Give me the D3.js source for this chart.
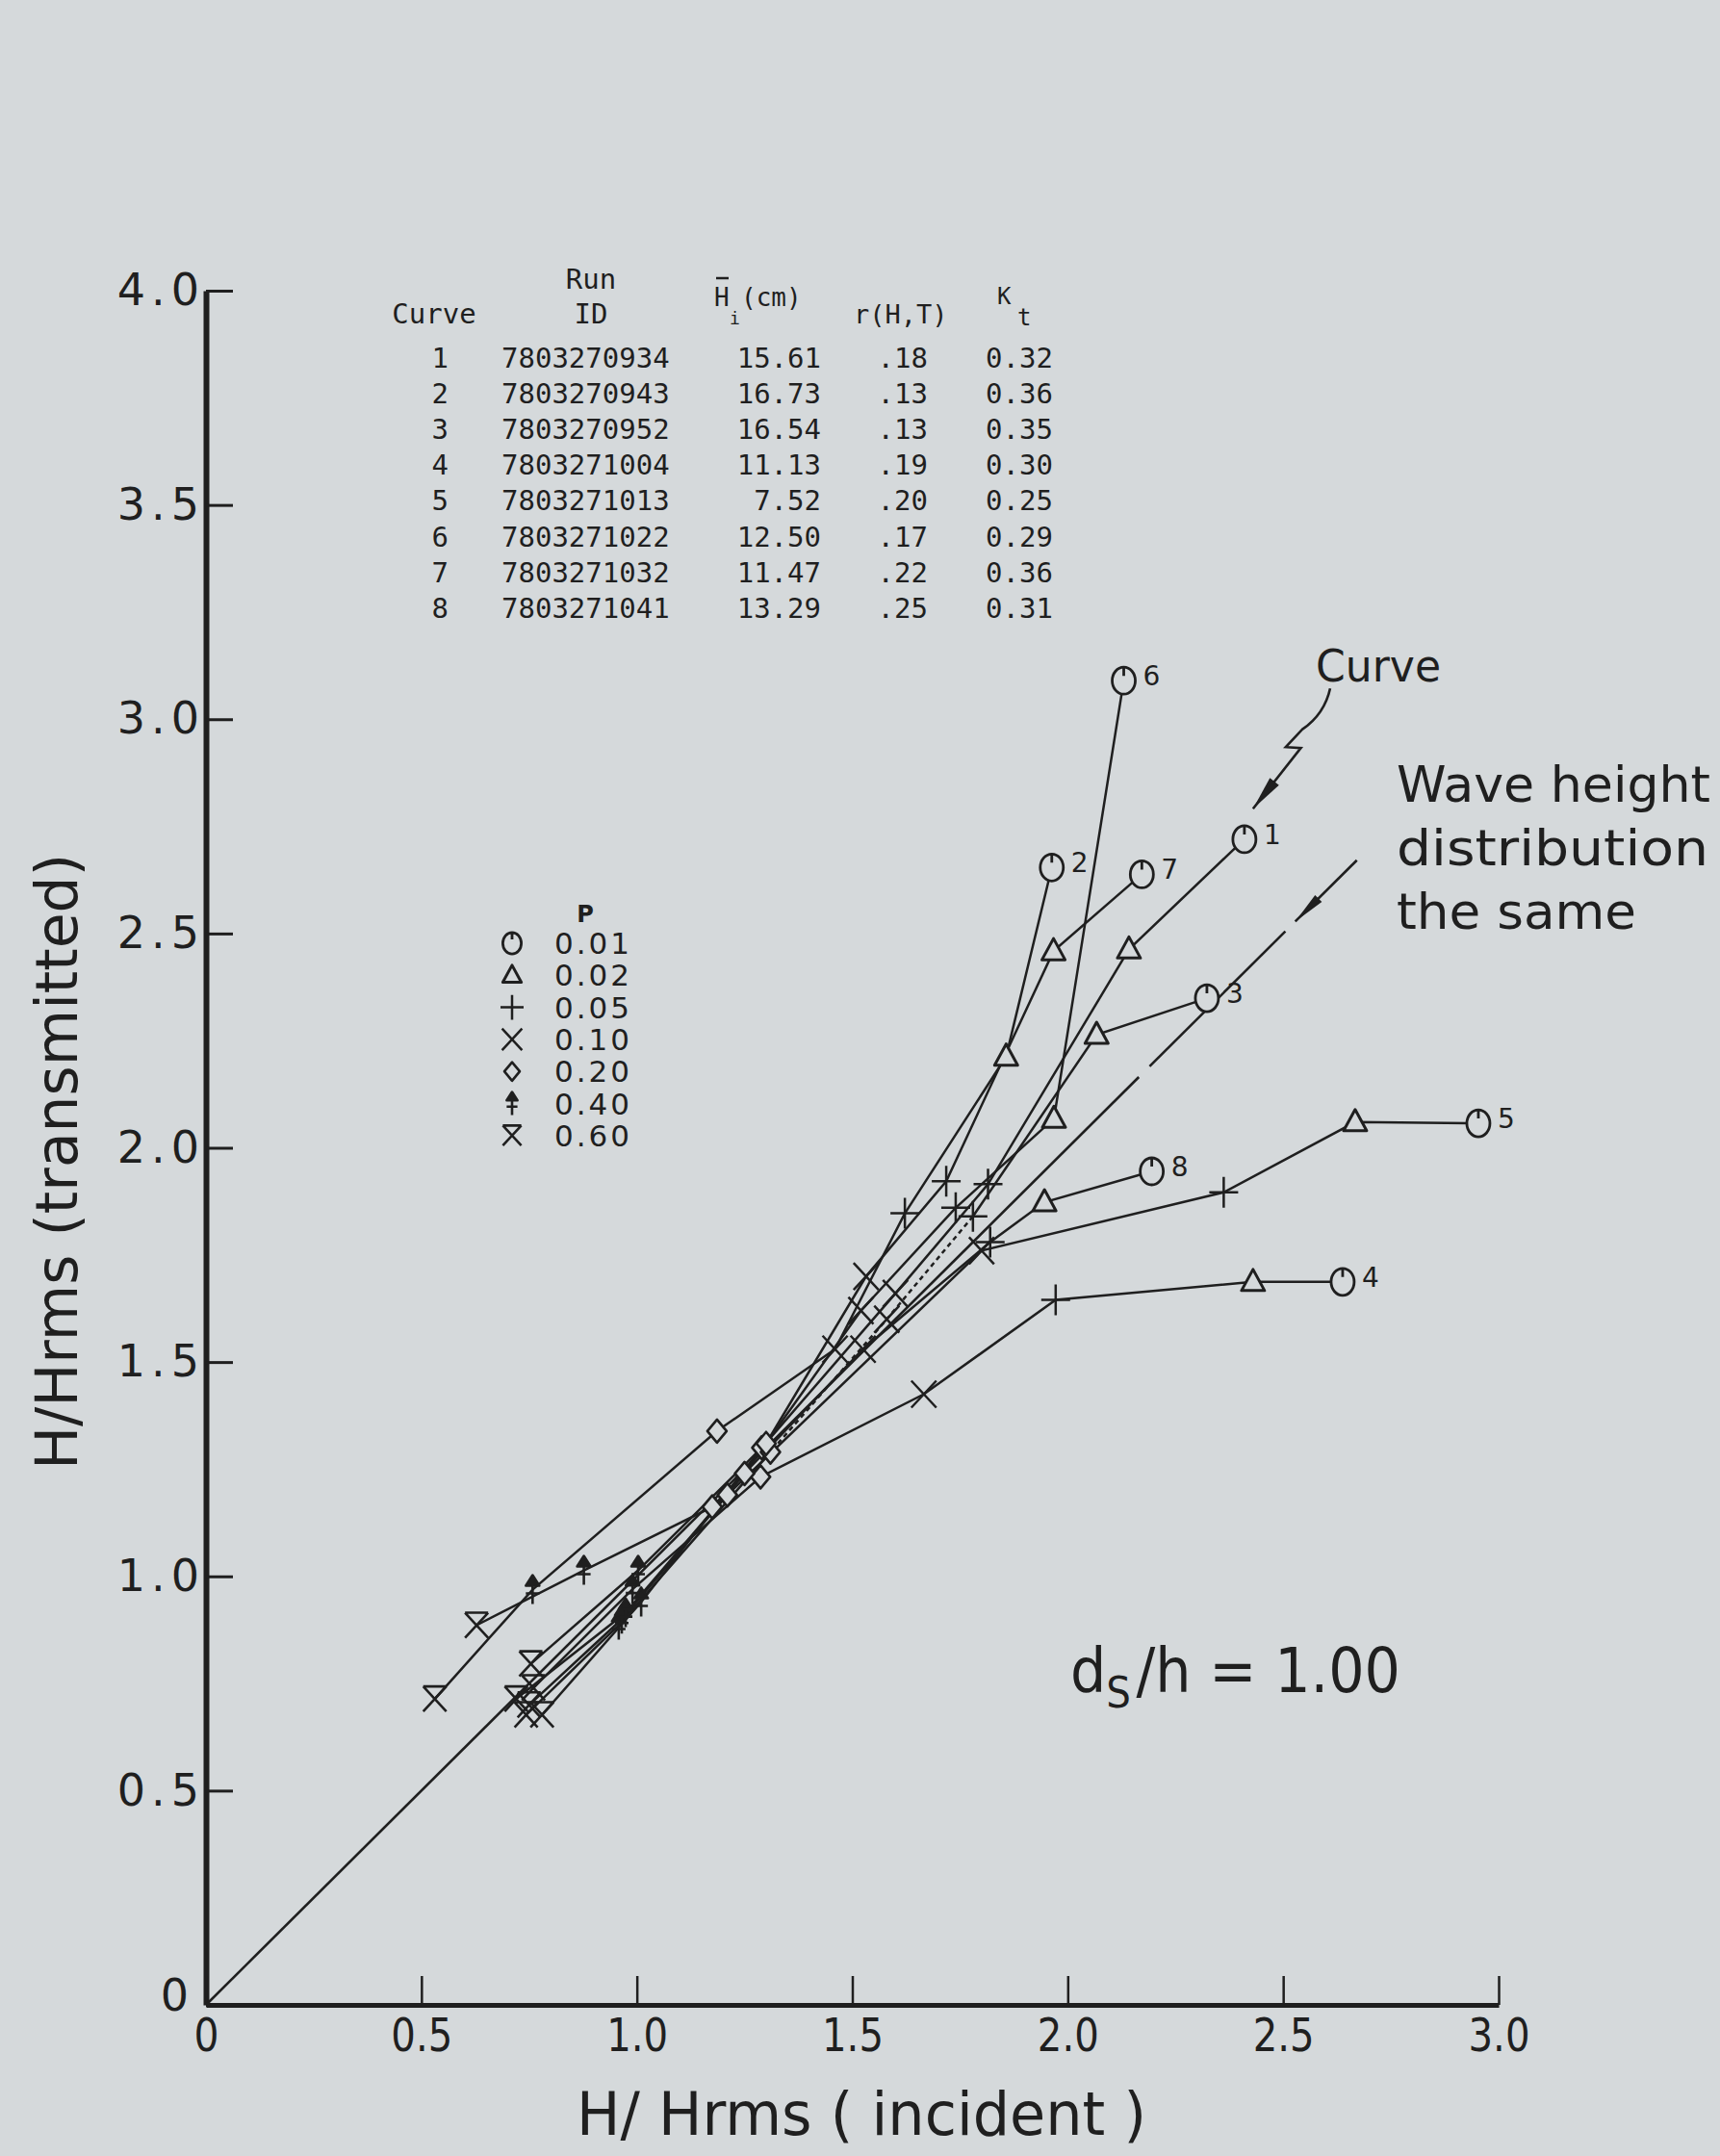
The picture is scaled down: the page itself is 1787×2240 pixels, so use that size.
<!DOCTYPE html>
<html><head><meta charset="utf-8">
<script src="https://cdn.jsdelivr.net/npm/d3@7"></script>
<style>
html,body{margin:0;padding:0;background:#d5d9db;}
svg{display:block;}
</style></head><body>
<svg id="chart" width="1787" height="2240"></svg>
<script>
// ---------------- data ----------------
const pLevels = ["0.01","0.02","0.05","0.10","0.20","0.40","0.60"];
const markerKinds = ["circle","triangle","plus","cross","diamond","arrow","xbar"];
const curveIds = [1,2,3,4,5,6,7,8];

// one entry per p level (0.01 ... 0.60)
const curve1X = [2.41, 2.142, 1.815, 1.60, 1.29, 1.01, 0.78];
const curve1Y = [2.72, 2.463, 1.915, 1.66, 1.30, 0.94, 0.677];
const curve2X = [1.963, 1.857, 1.622, 1.46, 1.186, 0.758, 0.531];
const curve2Y = [2.654, 2.213, 1.847, 1.53, 1.339, 0.969, 0.714];
const curve3X = [2.323, 2.067, 1.78, 1.58, 1.31, 0.958, 0.743];
const curve3Y = [2.349, 2.264, 1.84, 1.60, 1.29, 0.886, 0.677];
const curve4X = [2.638, 2.43, 1.972, 1.666, 1.287, 0.99, 0.76];
const curve4Y = [1.687, 1.687, 1.645, 1.425, 1.232, 0.97, 0.74];
const curve5X = [2.953, 2.667, 2.362, 1.80, 1.21, 0.965, 0.75];
const curve5Y = [2.057, 2.06, 1.896, 1.76, 1.19, 0.90, 0.70];
const curve6X = [2.13, 1.968, 1.74, 1.52, 1.25, 0.974, 0.72];
const curve6Y = [3.09, 2.068, 1.86, 1.62, 1.24, 0.915, 0.714];
const curve7X = [2.172, 1.967, 1.718, 1.532, 1.30, 1.003, 0.754];
const curve7Y = [2.638, 2.459, 1.922, 1.70, 1.31, 1.014, 0.796];
const curve8X = [2.195, 1.946, 1.82, 1.525, 1.175, 0.877, 0.628];
const curve8Y = [1.945, 1.873, 1.78, 1.53, 1.162, 1.014, 0.886];

const xTicks = [0, 0.5, 1.0, 1.5, 2.0, 2.5, 3.0];
const yTicks = [0, 0.5, 1.0, 1.5, 2.0, 2.5, 3.0, 3.5, 4.0];

const tableCurve = ["1","2","3","4","5","6","7","8"];
const tableRunId = ["7803270934","7803270943","7803270952","7803271004","7803271013","7803271022","7803271032","7803271041"];
const tableHi = ["15.61","16.73","16.54","11.13","7.52","12.50","11.47","13.29"];
const tableR = [".18",".13",".13",".19",".20",".17",".22",".25"];
const tableKt = ["0.32","0.36","0.35","0.30","0.25","0.29","0.36","0.31"];

// line of equal distributions (H/Hrms transmitted = incident), drawn in two pieces
const samePieces = [[0, 2.165], [2.19, 2.505]];
const sameArrow = [2.671, 2.528];
// "Curve" pointer (squiggle), in data units
const curvePointer = [[2.609,3.072],[2.596,3.012],[2.544,2.976],[2.506,2.935],[2.541,2.933],[2.430,2.791]];

// ---------------- drawing ----------------
const INK = "#1f1f1f", BG = "#d5d9db";
const svg = d3.select("#chart");
svg.append("rect").attr("width",1787).attr("height",2240).attr("fill",BG);

const x = d3.scaleLinear().domain([0,3]).range([214,1557]);
const y = d3.scaleLinear().domain([0,4]).range([2083,302]);

const curves = curveIds.map((id,i) => {
  const X = [curve1X,curve2X,curve3X,curve4X,curve5X,curve6X,curve7X,curve8X][i];
  const Y = [curve1Y,curve2Y,curve3Y,curve4Y,curve5Y,curve6Y,curve7Y,curve8Y][i];
  return {id, pts: X.map((v,j)=>({x:v, y:Y[j], kind:markerKinds[j]}))};
});

// axes
const fmt = d => d===0 ? "0" : d3.format(".1f")(d);
const gy = svg.append("g").attr("transform",`translate(${x(0)},0)`)
  .call(d3.axisLeft(y).tickValues(yTicks).tickFormat(fmt).tickSizeInner(-28).tickSizeOuter(0).tickPadding(1));
gy.select(".domain").attr("stroke",INK).attr("stroke-width",6);
gy.selectAll(".tick line").attr("stroke",INK).attr("stroke-width",3);
gy.selectAll(".tick text").attr("font-family","DejaVu Sans").attr("font-size",46)
  .attr("fill",INK).style("letter-spacing","6px");
gy.selectAll(".tick text").filter(d => d===0).attr("y",-9).attr("x",-12);

const gx = svg.append("g").attr("transform",`translate(0,${y(0)})`)
  .call(d3.axisBottom(x).tickValues(xTicks).tickFormat(fmt).tickSizeInner(-30).tickSizeOuter(0).tickPadding(14));
gx.select(".domain").attr("stroke",INK).attr("stroke-width",5);
gx.selectAll(".tick line").attr("stroke",INK).attr("stroke-width",2.5);
gx.selectAll(".tick text").attr("font-family","DejaVu Sans").attr("font-size",48).attr("fill",INK)
  .attr("textLength", d => d===0 ? 26 : 64).attr("lengthAdjust","spacingAndGlyphs");

// axis titles
svg.append("text").attr("transform",`translate(80,1207) rotate(-90)`).attr("text-anchor","middle")
  .attr("font-family","DejaVu Sans").attr("font-size",60).attr("fill",INK)
  .attr("textLength",640).attr("lengthAdjust","spacingAndGlyphs").text("H/Hrms (transmitted)");
svg.append("text").attr("x",895).attr("y",2218).attr("text-anchor","middle")
  .attr("font-family","DejaVu Sans").attr("font-size",62).attr("fill",INK)
  .attr("textLength",592).attr("lengthAdjust","spacingAndGlyphs").text("H/ Hrms ( incident )");

// equal-distribution line
const plot = svg.append("g");
samePieces.forEach(p => {
  plot.append("line").attr("x1",x(p[0])).attr("y1",y(p[0])).attr("x2",x(p[1])).attr("y2",y(p[1]))
    .attr("stroke",INK).attr("stroke-width",2.6);
});
function arrowHead(x1,y1,x2,y2,len,hw){
  const dx=x2-x1, dy=y2-y1, L=Math.hypot(dx,dy), ux=dx/L, uy=dy/L;
  const bx=x2-ux*len, by=y2-uy*len;
  return `M${x2},${y2}L${bx-uy*hw},${by+ux*hw}L${bx+uy*hw},${by-ux*hw}Z`;
}
plot.append("line").attr("x1",x(sameArrow[0])).attr("y1",y(sameArrow[0]))
  .attr("x2",x(sameArrow[1])).attr("y2",y(sameArrow[1])).attr("stroke",INK).attr("stroke-width",2.6);
plot.append("path").attr("d",arrowHead(x(sameArrow[0]),y(sameArrow[0]),x(sameArrow[1]),y(sameArrow[1]),34,5))
  .attr("fill",INK);

// curve pointer
{
  const P = curvePointer.map(d=>[x(d[0]),y(d[1])]);
  const d = `M${P[0]}Q${P[1]} ${P[2]}L${P[3]}L${P[4]}L${P[5]}`;
  plot.append("path").attr("d",d).attr("fill","none").attr("stroke",INK).attr("stroke-width",2.6);
  plot.append("path").attr("d",arrowHead(P[4][0],P[4][1],P[5][0],P[5][1],36,6)).attr("fill",INK);
}

// curve lines
const line = d3.line().x(d=>x(d.x)).y(d=>y(d.y));
curves.forEach(c => {
  if (c.id === 3) {
    plot.append("path").attr("d",line(c.pts.slice(0,3))).attr("fill","none").attr("stroke",INK).attr("stroke-width",2.5);
    plot.append("path").attr("d",line(c.pts.slice(2,5))).attr("fill","none").attr("stroke",INK).attr("stroke-width",2.5).attr("stroke-dasharray","5,4");
    plot.append("path").attr("d",line(c.pts.slice(4))).attr("fill","none").attr("stroke",INK).attr("stroke-width",2.5);
  } else {
    plot.append("path").attr("d",line(c.pts)).attr("fill","none").attr("stroke",INK).attr("stroke-width",2.5);
  }
});

// markers
const markerShape = {
  circle:   {d:"M-12,0A12,14 0 1,0 12,0A12,14 0 1,0 -12,0Z M0,-14V-5", fill:BG, sw:2.8},
  triangle: {d:"M0,-13L12,9L-12,9Z", fill:BG, sw:3},
  plus:     {d:"M-15,0H15M0,-16V16", fill:"none", sw:2.5},
  cross:    {d:"M-13,-14L13,14M13,-14L-13,14", fill:"none", sw:2.5},
  diamond:  {d:"M0,-12L10,0L0,12L-10,0Z", fill:BG, sw:2.6},
  arrow:    {d:"M0,-15L7,-4L-7,-4Z M0,-4V15 M-7,4H7", fill:INK, sw:2.6},
  xbar:     {d:"M-12,-13H12M-12,-13L12,13M12,-13L-12,13", fill:"none", sw:2.6}
};
function drawMarker(g, kind, px, py, s){
  const m = markerShape[kind];
  g.append("path").attr("d",m.d).attr("transform",`translate(${px},${py}) scale(${s})`)
    .attr("fill",m.fill).attr("stroke",INK).attr("stroke-width",m.sw/s).attr("stroke-linejoin","round");
}
curves.forEach(c => {
  c.pts.slice().reverse().forEach(p => drawMarker(plot, p.kind, x(p.x), y(p.y), 1));
});
// curve number labels next to the p=0.01 circles
curves.forEach(c => {
  const p = c.pts[0];
  plot.append("text").attr("x",x(p.x)+20).attr("y",y(p.y)+5)
    .attr("font-family","DejaVu Sans").attr("font-size",28).attr("fill",INK).text(c.id);
});

// legend (p)
const leg = svg.append("g");
leg.append("text").attr("x",608).attr("y",958).attr("text-anchor","middle")
  .attr("font-family","DejaVu Sans").attr("font-weight","bold").attr("font-size",24).attr("fill",INK).text("P");
pLevels.forEach((p,i) => {
  const cy = 980 + i*33.3;
  drawMarker(leg, markerKinds[i], 532, cy, 0.8);
  leg.append("text").attr("x",576).attr("y",cy+11)
    .attr("font-family","DejaVu Sans").attr("font-size",31).attr("fill",INK)
    .style("letter-spacing","3px").text(p);
});

// table
const tf = "DejaVu Sans Mono", ts = 29;
const tab = svg.append("g").attr("font-family",tf).attr("font-size",ts).attr("fill",INK);
tab.append("text").attr("x",451).attr("y",336).attr("text-anchor","middle").text("Curve");
tab.append("text").attr("x",614).attr("y",300).attr("text-anchor","middle").text("Run");
tab.append("text").attr("x",614).attr("y",336).attr("text-anchor","middle").text("ID");
tab.append("text").attr("x",742).attr("y",318).attr("font-size",26).text("H");
tab.append("line").attr("x1",744).attr("x2",757).attr("y1",289).attr("y2",289).attr("stroke",INK).attr("stroke-width",2.5);
tab.append("text").attr("x",758).attr("y",337).attr("font-size",18).text("i");
tab.append("text").attr("x",770).attr("y",318).attr("font-size",26).text("(cm)");
tab.append("text").attr("x",887).attr("y",336).attr("font-size",27).text("r(H,T)");
tab.append("text").attr("x",1036).attr("y",316).attr("font-size",24).text("K");
tab.append("text").attr("x",1057).attr("y",338).attr("font-size",24).text("t");
tableCurve.forEach((c,i) => {
  const by = 382 + i*37.1;
  tab.append("text").attr("x",466).attr("y",by).attr("text-anchor","end").text(c);
  tab.append("text").attr("x",521).attr("y",by).text(tableRunId[i]);
  tab.append("text").attr("x",853).attr("y",by).attr("text-anchor","end").text(tableHi[i]);
  tab.append("text").attr("x",964).attr("y",by).attr("text-anchor","end").text(tableR[i]);
  tab.append("text").attr("x",1024).attr("y",by).text(tableKt[i]);
});

// annotations
const ann = svg.append("g").attr("font-family","DejaVu Sans").attr("fill",INK);
ann.append("text").attr("x",1367).attr("y",708).attr("font-size",46)
  .attr("textLength",130).attr("lengthAdjust","spacingAndGlyphs").text("Curve");
[["Wave height",833,326],["distribution",899,324],["the same",965,249]].forEach(r => {
  ann.append("text").attr("x",1451).attr("y",r[1]).attr("font-size",52)
    .attr("textLength",r[2]).attr("lengthAdjust","spacingAndGlyphs").text(r[0]);
});
const ds = ann.append("text").attr("x",1112).attr("y",1758).attr("font-size",64)
  .attr("textLength",343).attr("lengthAdjust","spacingAndGlyphs");
ds.append("tspan").text("d");
ds.append("tspan").attr("font-size",44).attr("dy",16).text("S");
ds.append("tspan").attr("dy",-16).attr("dx",6).text("/h = 1.00");
</script>
</body></html>
